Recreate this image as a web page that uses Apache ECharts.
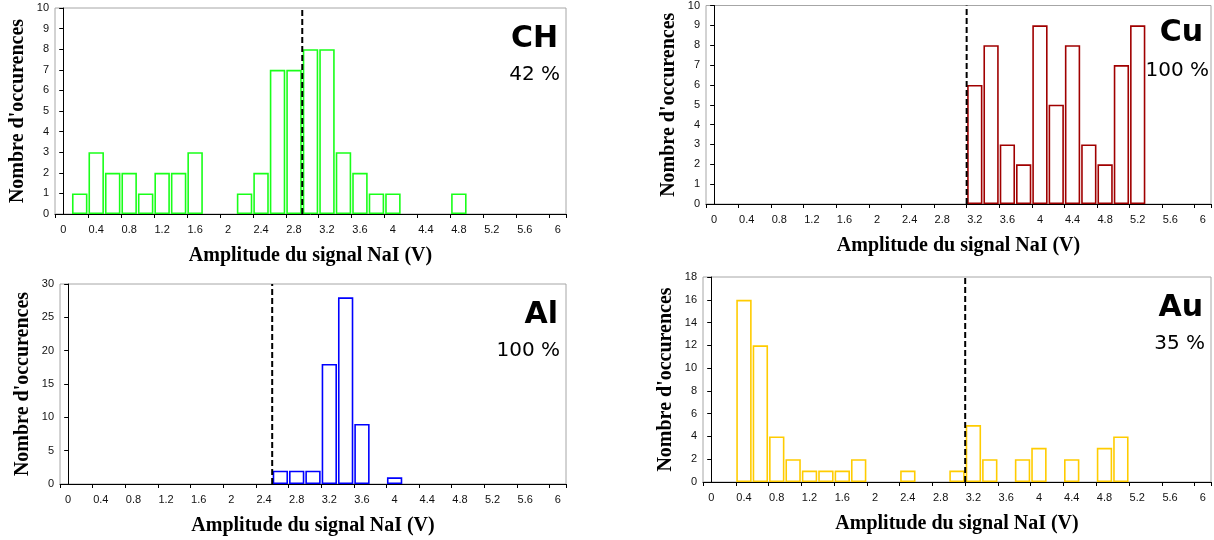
<!DOCTYPE html>
<html>
<head>
<meta charset="utf-8">
<script src="https://cdn.jsdelivr.net/npm/echarts@6/dist/echarts.min.js"></script>
<style>
  html, body { margin: 0; padding: 0; background: #fff; }
  #main { width: 1214px; height: 540px; }
</style>
</head>
<body>
<div id="main"></div>
<script>
// classes d'amplitude (V), pas de 0.2
var categories = ['0', '0.2', '0.4', '0.6', '0.8', '1', '1.2', '1.4', '1.6', '1.8',
  '2', '2.2', '2.4', '2.6', '2.8', '3', '3.2', '3.4', '3.6', '3.8',
  '4', '4.2', '4.4', '4.6', '4.8', '5', '5.2', '5.4', '5.6', '5.8', '6'];

// nombre d'occurences par classe
var chValues = [0, 1, 3, 2, 2, 1, 2, 2, 3, 0, 0, 1, 2, 7, 7, 8, 8, 3, 2, 1, 1, 0, 0, 0, 1, 0, 0, 0, 0, 0, 0];
var cuValues = [0, 0, 0, 0, 0, 0, 0, 0, 0, 0, 0, 0, 0, 0, 0, 0, 6, 8, 3, 2, 9, 5, 8, 3, 2, 7, 9, 0, 0, 0, 0];
var alValues = [0, 0, 0, 0, 0, 0, 0, 0, 0, 0, 0, 0, 0, 2, 2, 2, 18, 28, 9, 0, 1, 0, 0, 0, 0, 0, 0, 0, 0, 0, 0];
var auValues = [0, 0, 16, 12, 4, 2, 1, 1, 1, 2, 0, 0, 1, 0, 0, 1, 5, 2, 0, 2, 3, 0, 2, 0, 3, 4, 0, 0, 0, 0, 0];

// seuils (ligne pointillée), en volts
var thresholds = [2.9, 3.1, 2.5, 3.1];

var names = ['CH', 'Cu', 'Al', 'Au'];
var percents = ['42 %', '100 %', '100 %', '35 %'];
var yMax = [10, 10, 30, 18];
var yStep = [1, 1, 5, 2];
var colors = ['#19ff19', '#a00000', '#0000ff', '#ffcc00'];

var grids = [
  { left: 55, top: 8, width: 511, height: 206 },
  { left: 706, top: 4, width: 505, height: 200 },
  { left: 60, top: 284, width: 506, height: 200 },
  { left: 703, top: 277, width: 508, height: 205 }
];
var allValues = [chValues, cuValues, alValues, auValues];

var myChart = echarts.init(document.getElementById('main'));

var option = {
  animation: false,
  grid: [],
  xAxis: [],
  yAxis: [],
  series: [],
  graphic: []
};

var titleStyle = { fontFamily: 'Liberation Serif', fontWeight: 'bold', fontSize: 20, color: '#000' };

grids.forEach(function (g, i) {
  option.grid.push({
    left: g.left, top: g.top, width: g.width, height: g.height,
    show: true, borderColor: '#a6a6a6', borderWidth: 1
  });
  // axe des catégories (barres)
  option.xAxis.push({
    type: 'category',
    gridIndex: i,
    data: categories,
    boundaryGap: true,
    name: 'Amplitude du signal NaI (V)',
    nameLocation: 'middle',
    nameGap: 32,
    nameTextStyle: titleStyle,
    axisLine: { lineStyle: { color: '#000', width: 1 } },
    axisTick: { show: true, length: 4, lineStyle: { color: '#000' } },
    axisLabel: { interval: 1, margin: 10, fontFamily: 'Liberation Sans', fontSize: 11, color: '#111' },
    splitLine: { show: false }
  });
  // axe des valeurs caché pour placer le seuil entre deux classes
  option.xAxis.push({
    type: 'value',
    gridIndex: i,
    min: -0.1,
    max: 6.1,
    show: false
  });
  option.yAxis.push({
    type: 'value',
    gridIndex: i,
    min: 0,
    max: yMax[i],
    interval: yStep[i],
    name: "Nombre d'occurences",
    nameLocation: 'middle',
    nameGap: 27,
    nameTextStyle: titleStyle,
    axisLine: { show: true, lineStyle: { color: '#000', width: 1 } },
    axisTick: { show: true, length: 4, lineStyle: { color: '#000' } },
    axisLabel: { margin: 6, fontFamily: 'Liberation Sans', fontSize: 11, color: '#111' },
    splitLine: { show: false }
  });

  option.series.push({
    type: 'bar',
    xAxisIndex: i * 2,
    yAxisIndex: i,
    // les classes vides ne sont pas dessinées
    data: allValues[i].map(function (v) { return v === 0 ? '-' : v; }),
    barCategoryGap: '6%',
    itemStyle: { color: '#fff', borderColor: colors[i], borderWidth: 1.6 },
    z: 2
  });
  option.series.push({
    type: 'line',
    xAxisIndex: i * 2 + 1,
    yAxisIndex: i,
    data: [[thresholds[i], 0], [thresholds[i], yMax[i]]],
    symbol: 'none',
    lineStyle: { color: '#000', width: 2, type: [6, 3] },
    z: 5
  });

  option.graphic.push({
    type: 'text',
    right: 1214 - (g.left + g.width) + 8,
    top: g.top + (i === 1 ? 14 : 16),
    style: {
      text: names[i],
      font: 'bold 30px "Comic Sans MS", "DejaVu Sans"',
      fill: '#000'
    }
  });
  option.graphic.push({
    type: 'text',
    right: 1214 - (g.left + g.width) + (i === 1 ? 2 : 6),
    top: g.top + 57,
    style: {
      text: percents[i],
      font: '20px "Comic Sans MS", "DejaVu Sans"',
      fill: '#000'
    }
  });
});

myChart.setOption(option);
</script>
</body>
</html>
